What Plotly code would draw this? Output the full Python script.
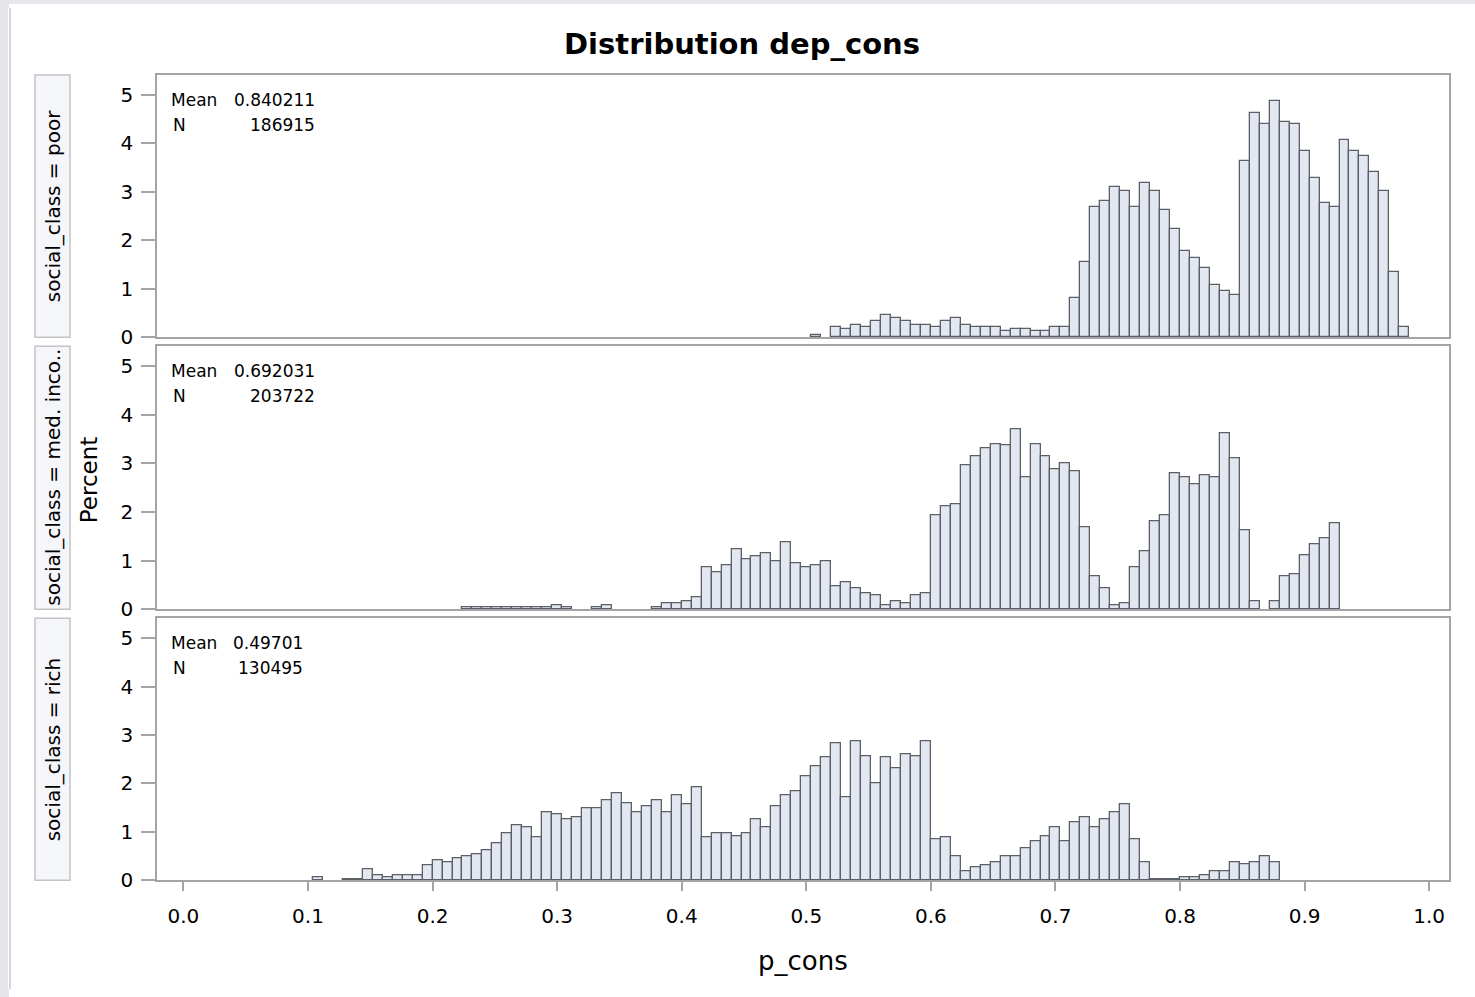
import numpy as np
import plotly.graph_objects as go

# ---------------- data ----------------
BIN_WIDTH = 0.008
panel_labels = ["social_class = poor", "social_class = med. inco..", "social_class = rich"]
panel_means = ["0.840211", "0.692031", "0.49701"]
panel_ns = ["186915", "203722", "130495"]

poor_start = 0.504
poor_pct = [0.04, 0, 0.21, 0.17, 0.25, 0.21, 0.33, 0.46, 0.39, 0.34, 0.25, 0.25, 0.21, 0.34,
            0.39, 0.25, 0.21, 0.21, 0.21, 0.12, 0.17, 0.17, 0.12, 0.12, 0.21, 0.21, 0.81, 1.55,
            2.68, 2.80, 3.10, 3.02, 2.68, 3.19, 3.02, 2.63, 2.23, 1.77, 1.63, 1.42, 1.08, 0.95,
            0.86, 3.63, 4.62, 4.40, 4.87, 4.44, 4.40, 3.84, 3.28, 2.76, 2.68, 4.06, 3.84, 3.74,
            3.40, 3.01, 1.34, 0.21]

med_start = 0.224
med_pct = [0.04, 0.04, 0.04, 0.04, 0.04, 0.04, 0.04, 0.04, 0.04, 0.08, 0.04, 0, 0, 0.04, 0.08,
           0, 0, 0, 0, 0.04, 0.12, 0.12, 0.17, 0.25, 0.86, 0.77, 0.90, 1.24, 1.02, 1.10, 1.16,
           0.99, 1.37, 0.94, 0.86, 0.90, 0.98, 0.47, 0.55, 0.43, 0.34, 0.29, 0.08, 0.17, 0.12,
           0.29, 0.34, 1.94, 2.11, 2.16, 2.97, 3.14, 3.32, 3.39, 3.37, 3.71, 2.72, 3.39, 3.14,
           2.89, 3.01, 2.84, 1.68, 0.68, 0.43, 0.08, 0.12, 0.86, 1.20, 1.81, 1.94, 2.80, 2.72,
           2.58, 2.76, 2.72, 3.62, 3.10, 1.63, 0.17, 0, 0.17, 0.68, 0.73, 1.12, 1.33, 1.46, 1.77]

rich_start = 0.104
rich_pct = [0.07, 0, 0, 0.03, 0.03, 0.23, 0.11, 0.06, 0.10, 0.10, 0.10, 0.32, 0.41, 0.37, 0.46,
            0.50, 0.54, 0.62, 0.76, 0.98, 1.14, 1.09, 0.88, 1.41, 1.37, 1.27, 1.31, 1.49, 1.49,
            1.66, 1.79, 1.59, 1.41, 1.53, 1.66, 1.41, 1.75, 1.58, 1.92, 0.88, 0.98, 0.98, 0.92,
            0.98, 1.27, 1.10, 1.53, 1.75, 1.83, 2.14, 2.36, 2.54, 2.83, 1.71, 2.87, 2.57, 2.01,
            2.54, 2.32, 2.61, 2.57, 2.87, 0.84, 0.88, 0.50, 0.19, 0.28, 0.32, 0.37, 0.50, 0.50,
            0.66, 0.80, 0.92, 1.09, 0.80, 1.19, 1.31, 1.09, 1.27, 1.40, 1.57, 0.84, 0.37, 0.03,
            0.03, 0.03, 0.07, 0.07, 0.11, 0.19, 0.19, 0.37, 0.33, 0.37, 0.50, 0.37]

x_ticks = [0.0, 0.1, 0.2, 0.3, 0.4, 0.5, 0.6, 0.7, 0.8, 0.9, 1.0]
y_ticks = [0, 1, 2, 3, 4, 5]

# ---------------- layout helpers ----------------
PAGE_MARGIN = 8                      # default body margin of the page
W, H = 1475 - 2 * PAGE_MARGIN, 997 - 2 * PAGE_MARGIN
SY = 0.9875                          # vertical correction observed in the rendered picture
FONT = "DejaVu Sans, Liberation Sans, Arial, sans-serif"
def px(x):
    return (x - PAGE_MARGIN) / W
def py(y):
    return 1 - (y / SY - PAGE_MARGIN) / H

panel_px = [(75, 337), (346, 609), (618, 880)]
PLOT_L, PLOT_R = 157, 1449
X_RANGE = [-0.0212, 1.0159]
Y_RANGE = [0, 5.41]
num_right = [317, 317, 305]

BAR_FILL = "#e3e7f1"
BAR_LINE = "#5b5f66"
AXIS_COL = "#a3a3a8"

fig = go.Figure()
series = [(poor_start, poor_pct), (med_start, med_pct), (rich_start, rich_pct)]
for i, (start, vals) in enumerate(series):
    n = i + 1
    xs = np.round(start + BIN_WIDTH * (np.arange(len(vals)) + 0.5), 4)
    ys = [v if v > 0 else None for v in vals]
    fig.add_trace(go.Bar(
        x=xs, y=ys, width=BIN_WIDTH,
        marker=dict(color=BAR_FILL, line=dict(color=BAR_LINE, width=1.3)),
        xaxis="x" if n == 1 else f"x{n}", yaxis="y" if n == 1 else f"y{n}",
        showlegend=False, hoverinfo="x+y",
    ))

layout = dict(
    width=W, height=H,
    margin=dict(l=0, r=0, t=0, b=0),
    paper_bgcolor="white", plot_bgcolor="white",
    font=dict(family=FONT, color="#000000", size=20),
    bargap=0, showlegend=False,
)
for i, (top, bot) in enumerate(panel_px):
    n = i + 1
    xk = "xaxis" if n == 1 else f"xaxis{n}"
    yk = "yaxis" if n == 1 else f"yaxis{n}"
    ya = "y" if n == 1 else f"y{n}"
    xa = "x" if n == 1 else f"x{n}"
    last = (n == 3)
    layout[xk] = dict(
        domain=[px(PLOT_L), px(PLOT_R)], anchor=ya, range=X_RANGE,
        showline=True, mirror=True, linecolor=AXIS_COL, linewidth=1.5,
        showgrid=False, zeroline=False,
        tickvals=x_ticks, ticktext=[f"{t:.1f}" for t in x_ticks],
        ticks="outside" if last else "", ticklen=9, tickcolor=AXIS_COL, tickwidth=1.5,
        showticklabels=last, tickfont=dict(size=20, family=FONT),
        ticklabelstandoff=8,
    )
    if n != 3:
        layout[xk]["matches"] = "x3"
    layout[yk] = dict(
        domain=[py(bot), py(top)], anchor=xa, range=Y_RANGE,
        showline=True, mirror=True, linecolor=AXIS_COL, linewidth=1.5,
        showgrid=False, zeroline=False,
        tickvals=y_ticks, ticks="outside", ticklen=14, tickcolor=AXIS_COL, tickwidth=1.5,
        tickfont=dict(size=20, family=FONT), ticklabelstandoff=4,
    )
fig.update_layout(**layout)

shapes = [dict(type="line", xref="paper", yref="paper", x0=px(10), x1=px(10), y0=-0.02, y1=1.02,
               line=dict(color="#c9c9cd", width=1.5), layer="below")]
annotations = []
for i, (top, bot) in enumerate(panel_px):
    shapes.append(dict(type="rect", xref="paper", yref="paper", x0=px(35), x1=px(70),
                       y0=py(bot), y1=py(top), fillcolor="#f5f6fa",
                       line=dict(color="#c4c4c8", width=1.5), layer="below"))
    annotations.append(dict(xref="paper", yref="paper", x=px(53), y=py((top + bot) / 2),
                            text=panel_labels[i], textangle=-90, showarrow=False,
                            font=dict(size=20, family=FONT), xanchor="center", yanchor="middle"))
    annotations.append(dict(xref="paper", yref="paper", x=px(169), y=py(top + 25),
                            text="Mean", showarrow=False, xanchor="left", yanchor="middle",
                            font=dict(size=17, family=FONT)))
    annotations.append(dict(xref="paper", yref="paper", x=px(num_right[i]), y=py(top + 25),
                            text=panel_means[i], showarrow=False, xanchor="right", yanchor="middle",
                            font=dict(size=17, family=FONT)))
    annotations.append(dict(xref="paper", yref="paper", x=px(171), y=py(top + 50),
                            text="N", showarrow=False, xanchor="left", yanchor="middle",
                            font=dict(size=17, family=FONT)))
    annotations.append(dict(xref="paper", yref="paper", x=px(num_right[i]), y=py(top + 50),
                            text=panel_ns[i], showarrow=False, xanchor="right", yanchor="middle",
                            font=dict(size=17, family=FONT)))

annotations.append(dict(xref="paper", yref="paper", x=px(742), y=py(44),
                        text="<b>Distribution dep_cons</b>", showarrow=False,
                        xanchor="center", yanchor="middle", font=dict(size=29, family=FONT)))
annotations.append(dict(xref="paper", yref="paper", x=px(89), y=py(480),
                        text="Percent", textangle=-90, showarrow=False,
                        xanchor="center", yanchor="middle", font=dict(size=23, family=FONT)))
annotations.append(dict(xref="paper", yref="paper", x=px(803), y=py(961),
                        text="p_cons", showarrow=False,
                        xanchor="center", yanchor="middle", font=dict(size=26, family=FONT)))
fig.update_layout(shapes=shapes, annotations=annotations)

fig.write_html(
    "out.html",
    config={"displayModeBar": False},
    post_script=(
        "var r=document.documentElement; r.style.minHeight='100%';"
        "r.style.background='linear-gradient(to bottom, #e6e6ea 4px, rgba(0,0,0,0) 4px),"
        " linear-gradient(to right, #e6e6ea 9px, #ffffff 9px)';"
        "document.body.style.background='transparent';"
    ),
)
